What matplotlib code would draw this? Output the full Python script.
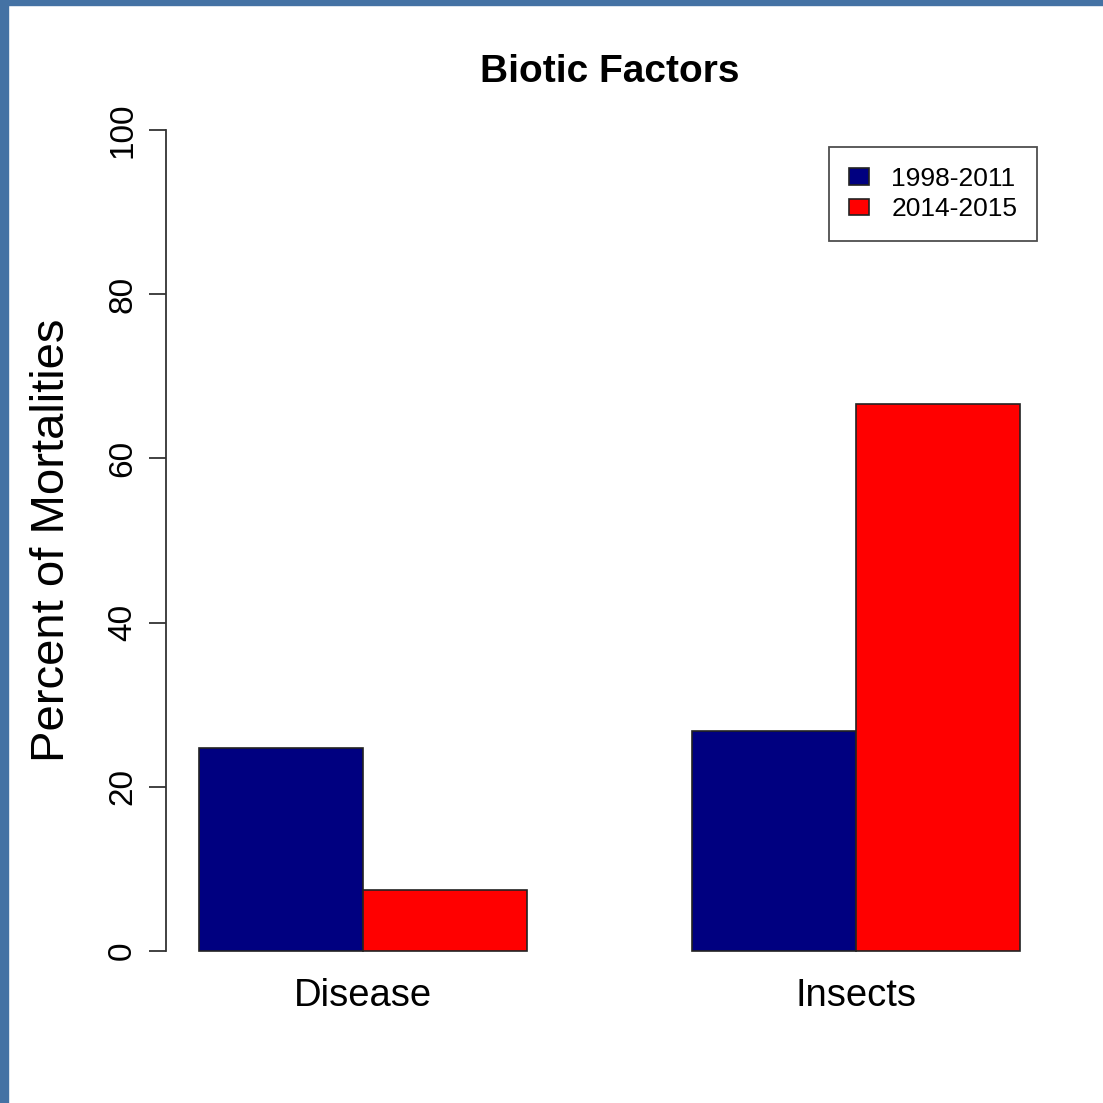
import matplotlib
matplotlib.use("Agg")
import matplotlib.pyplot as plt
from matplotlib.patches import Rectangle, Patch
import numpy as np

# data
categories = ["Disease", "Insects"]
periods = ["1998-2011", "2014-2015"]
pct_1998_2011 = [24.7, 26.8]
pct_2014_2015 = [7.4, 66.6]
colors = ["#000080", "#ff0000"]

plt.rcParams["font.family"] = ["Liberation Sans", "DejaVu Sans"]

W = H = 1103
fig = plt.figure(figsize=(11.03, 11.03), dpi=100)
ax = fig.add_axes([166 / W, 1 - 984 / H, (1053 - 166) / W, (984 - 97) / H])

# R-style beside barplot: space=c(0,1), width 1
lefts = 1 + 3 * np.arange(len(categories))
for k, vals in enumerate([pct_1998_2011, pct_2014_2015]):
    ax.bar(lefts + k, vals, width=1.0, align="edge", color=colors[k],
           edgecolor="#222222", linewidth=1.2, zorder=2)

ax.set_xlim(0.8, 6.2)
ax.set_ylim(-4, 104)

for s in ["top", "right", "bottom"]:
    ax.spines[s].set_visible(False)
ax.spines["left"].set_bounds(0, 100)
ax.spines["left"].set_color("#333333")
ax.spines["left"].set_linewidth(1.3)

ax.set_yticks(np.arange(0, 101, 20))
ax.set_yticklabels([str(v) for v in range(0, 101, 20)], rotation=90,
                   va="center", fontsize=24)
ax.tick_params(axis="y", length=12, width=1.3, color="#333333", pad=8)

ax.set_xticks(lefts + 1)
ax.set_xticklabels(categories, fontsize=27.5)
ax.tick_params(axis="x", length=0, pad=-4)

fig.text(609.5 / W, 1 - 72 / H, "Biotic Factors", ha="center", va="center",
         fontsize=28, fontweight="bold")
fig.text(52 / W, 1 - 540 / H, "Percent of Mortalities", ha="center",
         va="center", rotation=90, fontsize=34)

handles = [Patch(facecolor=colors[k], edgecolor="#222222", linewidth=1.2)
           for k in range(2)]
leg = fig.legend(handles, periods, loc="upper right",
                 bbox_to_anchor=(1037 / W, 1 - 147 / H), fontsize=19,
                 frameon=True, fancybox=False, edgecolor="#222222",
                 handlelength=0.75, handleheight=0.6, handletextpad=0.85,
                 labelspacing=0.25, borderpad=0.75, borderaxespad=0)
leg.get_frame().set_linewidth(1.3)

# window border from the screenshot
border = "#4472a4"
fig.patches.append(Rectangle((0, 0), 8 / W, 1, transform=fig.transFigure,
                             color=border, zorder=10))
fig.patches.append(Rectangle((0, 1 - 5 / H), 1, 5 / H, transform=fig.transFigure,
                             color=border, zorder=10))

fig.savefig("out.png", dpi=100)
